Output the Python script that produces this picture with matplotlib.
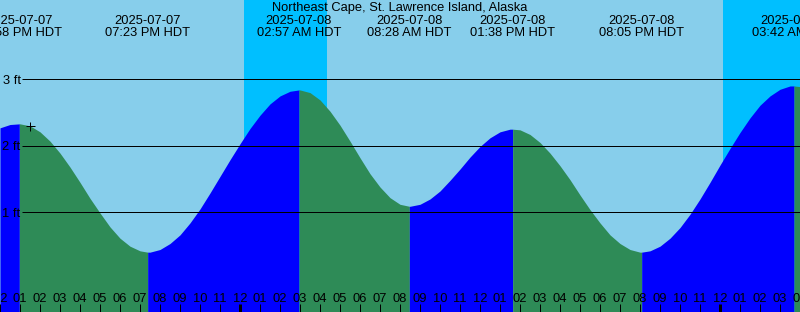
import numpy as np
import matplotlib
matplotlib.use("Agg")
import matplotlib.pyplot as plt
import matplotlib.transforms as mtransforms

# ---- data -------------------------------------------------------------
title = "Northeast Cape, St. Lawrence Island, Alaska"

# hours relative to 2025-07-08 00:00 HDT
start_hour, end_hour = -12, 28
# tide height (ft) read every half hour from start_hour to end_hour
tide_ft = [2.27, 2.32, 2.33, 2.30, 2.21, 2.07, 1.89, 1.68, 1.45, 1.21, 0.99, 0.78,
           0.61, 0.49, 0.42, 0.40, 0.44, 0.53, 0.66, 0.84, 1.05, 1.29, 1.54, 1.79,
           2.03, 2.26, 2.46, 2.63, 2.75, 2.82, 2.84, 2.80, 2.69, 2.52, 2.31, 2.07,
           1.82, 1.58, 1.38, 1.22, 1.12, 1.09, 1.12, 1.20, 1.32, 1.48, 1.65, 1.83,
           1.99, 2.12, 2.21, 2.25, 2.24, 2.17, 2.05, 1.89, 1.70, 1.49, 1.26, 1.04,
           0.84, 0.66, 0.53, 0.44, 0.40, 0.42, 0.49, 0.61, 0.77, 0.97, 1.20, 1.45,
           1.71, 1.96, 2.20, 2.42, 2.61, 2.75, 2.85, 2.90, 2.89]

# high / low tide events
event_dates = ["2025-07-07", "2025-07-07", "2025-07-08", "2025-07-08",
               "2025-07-08", "2025-07-08", "2025-07-09"]
event_labels = ["12:58 PM HDT", "07:23 PM HDT", "02:57 AM HDT", "08:28 AM HDT",
                "01:38 PM HDT", "08:05 PM HDT", "03:42 AM HDT"]
event_hours = [-11.033, -4.617, 2.95, 8.467, 13.633, 20.083, 27.7]
event_ft = [2.33, 0.40, 2.84, 1.09, 2.25, 0.40, 2.90]

# night periods (hours)
night_start = [0.2, 24.13]
night_end = [4.33, 28.0]

height_levels = [1, 2, 3]
height_labels = ["1 ft", "2 ft", "3 ft"]

marker_hour = -10.5
marker_ft = 2.30

# ---- styling ----------------------------------------------------------
DAY = "#87CEEB"
NIGHT = "#00BFFF"
FLOOD = "#0000FF"
EBB = "#2E8B57"
FONT = "Liberation Sans"
FS = 9.3
PX = 72 / 100  # one pixel in points

W, H = 800, 312
fig = plt.figure(figsize=(W / 100, H / 100), dpi=100)
ax = fig.add_axes([0, 0, 1, 1])
ax.set_xlim(start_hour, end_hour)
ax.set_ylim(-0.5, 4.193)
ax.axis("off")
ax.set_facecolor(DAY)
fig.patch.set_facecolor(DAY)

def yfrac(py):
    return 1 - py / H

trans = mtransforms.blended_transform_factory(ax.transData, ax.transAxes)

# night bands
for s, e in zip(night_start, night_end):
    ax.axvspan(s, e, color=NIGHT, lw=0, zorder=0)

# tide curve: merge samples with event points
ts = np.arange(start_hour, end_hour + 0.25, 0.5)
all_t = np.concatenate([ts, np.array(event_hours)])
all_h = np.concatenate([np.array(tide_ft), np.array(event_ft)])
order = np.argsort(all_t, kind="stable")
all_t, all_h = all_t[order], all_h[order]

bounds = [start_hour] + [t for t in event_hours if start_hour < t < end_hour] + [end_hour]
for b0, b1 in zip(bounds[:-1], bounds[1:]):
    m = (all_t >= b0) & (all_t <= b1)
    seg_t, seg_h = all_t[m], all_h[m]
    rising = seg_h[-1] > seg_h[0]
    ax.fill_between(seg_t, -0.5, seg_h, color=FLOOD if rising else EBB,
                    lw=0, zorder=1, antialiased=True)

# height lines and labels
x_line0 = start_hour + 22 / 20
for lv, lb in zip(height_levels, height_labels):
    ax.plot([x_line0, end_hour], [lv, lv], color="black", lw=1 * PX, zorder=3,
            solid_capstyle="butt")
    ax.text(start_hour + 20.5 / 20, lv, lb, ha="right", va="center_baseline",
            fontsize=FS, family=FONT, color="black", zorder=4)

# hour ticks and labels
for hr in range(start_hour, end_hour + 1):
    hod = hr % 24
    lbl = f"{(hod + 11) % 12 + 1:02d}"
    lw = 3 * PX if hod == 0 else 1 * PX
    ax.plot([hr, hr], [yfrac(304), 0], transform=trans, color="black", lw=lw,
            zorder=3, solid_capstyle="butt", clip_on=False)
    ax.text(hr, yfrac(302), lbl, transform=trans, ha="center", va="baseline",
            fontsize=FS, family=FONT, color="black", zorder=4)

# event labels
for d, lb, t in zip(event_dates, event_labels, event_hours):
    ax.text(t, yfrac(24), d, transform=trans, ha="center", va="baseline",
            fontsize=FS, family=FONT, color="black", zorder=4)
    ax.text(t, yfrac(36), lb, transform=trans, ha="center", va="baseline",
            fontsize=FS, family=FONT, color="black", zorder=4)

# title
ax.text(0.5, yfrac(11), title, transform=ax.transAxes, ha="center", va="baseline",
        fontsize=FS, family=FONT, color="black", zorder=4)

# marker
ax.plot([marker_hour], [marker_ft], marker="+", color="black", markersize=9 * PX,
        mew=1 * PX, zorder=5)

fig.savefig("out.png", dpi=100, facecolor=DAY)
